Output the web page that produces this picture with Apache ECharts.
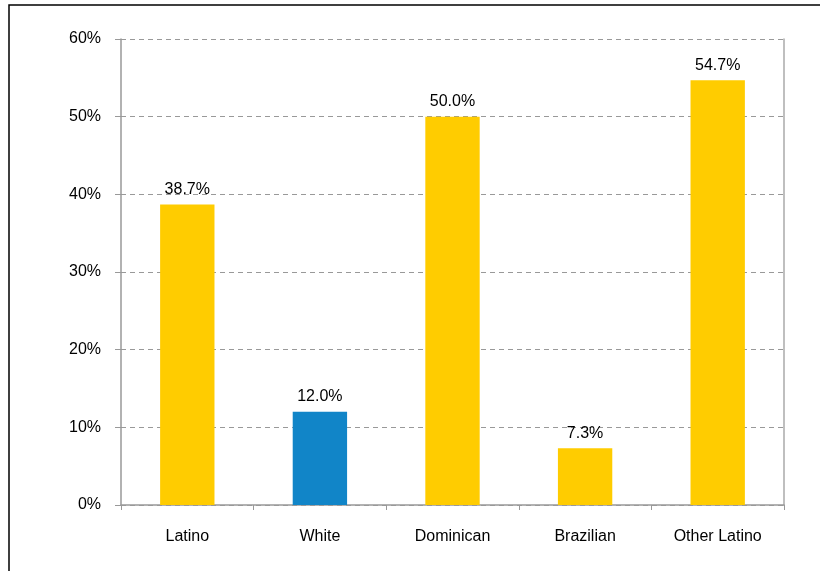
<!DOCTYPE html>
<html><head><meta charset="utf-8">
<script src="https://cdn.jsdelivr.net/npm/echarts@6/dist/echarts.min.js"></script>
<style>html,body{margin:0;padding:0;background:#fff}#c{width:820px;height:571px}</style>
</head><body><div id="c"></div>
<script>
const categories = ['Latino', 'White', 'Dominican', 'Brazilian', 'Other Latino'];
const values = [38.7, 12.0, 50.0, 7.3, 54.7];
const barColors = ['#FFCC00', '#1185C8', '#FFCC00', '#FFCC00', '#FFCC00'];
const yTicks = [0, 10, 20, 30, 40, 50, 60];

const chart = echarts.init(document.getElementById('c'), null, {renderer: 'canvas'});
const font = 'Liberation Sans, Arial, sans-serif';
chart.setOption({
  animation: false,
  backgroundColor: '#fff',
  graphic: [{
    type: 'rect', shape: {x: 9, y: 5, width: 900, height: 700},
    style: {fill: 'none', stroke: '#000', lineWidth: 1.5}, silent: true
  }],
  grid: {left: 121, right: 36, top: 39, bottom: 66, containLabel: false},
  xAxis: {
    type: 'category', data: categories,
    axisLine: {lineStyle: {color: '#999', width: 1.5}},
    axisTick: {show: true, alignWithLabel: false, length: 5, lineStyle: {color: '#999'}},
    axisLabel: {color: '#000', fontFamily: font, fontSize: 16, margin: 24}
  },
  yAxis: [{
    type: 'value', min: yTicks[0], max: yTicks[yTicks.length - 1], interval: 10,
    axisLine: {show: true, lineStyle: {color: '#999', width: 1.5}},
    axisTick: {show: true, length: 6, lineStyle: {color: '#999'}},
    axisLabel: {color: '#000', fontFamily: font, fontSize: 16, margin: 20, padding: [4, 0, 0, 0],
      formatter: v => v + '%'},
    splitLine: {show: true, lineStyle: {color: '#999', type: [5, 4], width: 1}}
  }, {
    type: 'value', position: 'right', min: yTicks[0], max: yTicks[yTicks.length - 1], interval: 10,
    axisLine: {show: true, lineStyle: {color: '#aaa', width: 1.5}},
    axisTick: {show: false}, axisLabel: {show: false}, splitLine: {show: false}
  }],
  series: [{
    type: 'bar',
    data: values.map((v, i) => ({value: v, itemStyle: {color: barColors[i]}})),
    barWidth: '41%',
    label: {show: true, position: 'top', distance: 7, color: '#000', fontFamily: font, fontSize: 16,
      formatter: p => p.value.toFixed(1) + '%'}
  }]
});
</script></body></html>
